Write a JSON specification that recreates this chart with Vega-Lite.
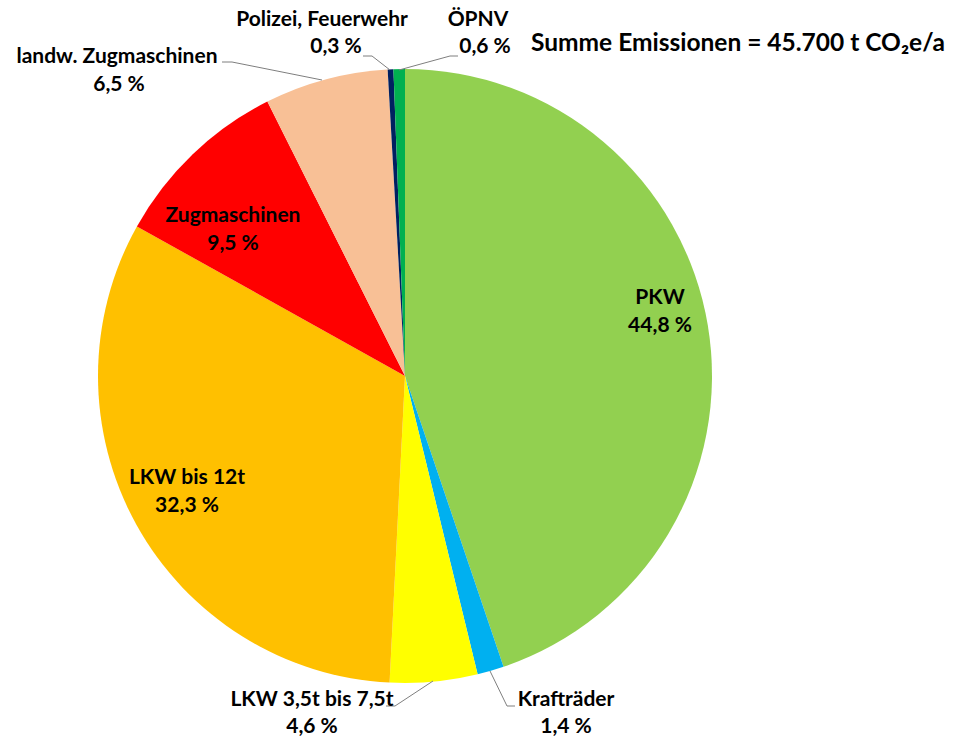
{
  "$schema": "https://vega.github.io/schema/vega-lite/v6.json",
  "width": 954,
  "height": 740,
  "autosize": "none",
  "padding": 0,
  "background": "white",
  "config": {"view": {"stroke": null}},
  "datasets": {
    "slices": [
      {"idx": 1, "category": "PKW", "share": 44.8, "cx": 405, "cy": 376},
      {"idx": 2, "category": "Krafträder", "share": 1.4, "cx": 405, "cy": 376},
      {"idx": 3, "category": "LKW 3,5t bis 7,5t", "share": 4.6, "cx": 405, "cy": 376},
      {"idx": 4, "category": "LKW bis 12t", "share": 32.3, "cx": 405, "cy": 376},
      {"idx": 5, "category": "Zugmaschinen", "share": 9.5, "cx": 405, "cy": 376},
      {"idx": 6, "category": "landw. Zugmaschinen", "share": 6.5, "cx": 405, "cy": 376},
      {"idx": 7, "category": "Polizei, Feuerwehr", "share": 0.3, "cx": 405, "cy": 376},
      {"idx": 8, "category": "ÖPNV", "share": 0.6, "cx": 405, "cy": 376}
    ],
    "labels": [
      {"text": "Polizei, Feuerwehr", "x": 322, "y": 20, "size": 21},
      {"text": "0,3 %", "x": 336, "y": 47, "size": 21},
      {"text": "ÖPNV", "x": 478, "y": 20, "size": 21},
      {"text": "0,6 %", "x": 485, "y": 47, "size": 21},
      {"text": "landw. Zugmaschinen", "x": 117, "y": 57, "size": 21},
      {"text": "6,5 %", "x": 119, "y": 85, "size": 21},
      {"text": "Zugmaschinen", "x": 233, "y": 216, "size": 21},
      {"text": "9,5 %", "x": 233, "y": 244, "size": 21},
      {"text": "PKW", "x": 660, "y": 298, "size": 21},
      {"text": "44,8 %", "x": 660, "y": 326, "size": 21},
      {"text": "LKW bis 12t", "x": 187, "y": 478, "size": 21},
      {"text": "32,3 %", "x": 187, "y": 506, "size": 21},
      {"text": "LKW 3,5t bis 7,5t", "x": 312, "y": 700, "size": 21},
      {"text": "4,6 %", "x": 312, "y": 727, "size": 21},
      {"text": "Krafträder", "x": 566, "y": 700, "size": 21},
      {"text": "1,4 %", "x": 566, "y": 727, "size": 21},
      {"text": "Summe Emissionen = 45.700 t CO₂e/a", "x": 738, "y": 44, "size": 24.5}
    ],
    "leaders": [
      {"id": "Polizei", "seq": 1, "x": 363, "y": 56},
      {"id": "Polizei", "seq": 2, "x": 372, "y": 56},
      {"id": "Polizei", "seq": 3, "x": 390, "y": 70},
      {"id": "OEPNV", "seq": 1, "x": 458, "y": 56},
      {"id": "OEPNV", "seq": 2, "x": 450, "y": 56},
      {"id": "OEPNV", "seq": 3, "x": 399, "y": 70},
      {"id": "landw", "seq": 1, "x": 222, "y": 62},
      {"id": "landw", "seq": 2, "x": 232, "y": 62},
      {"id": "landw", "seq": 3, "x": 322, "y": 80},
      {"id": "LKW35", "seq": 1, "x": 386, "y": 706},
      {"id": "LKW35", "seq": 2, "x": 395, "y": 706},
      {"id": "LKW35", "seq": 3, "x": 433, "y": 681},
      {"id": "Kraft", "seq": 1, "x": 515, "y": 706},
      {"id": "Kraft", "seq": 2, "x": 507, "y": 706},
      {"id": "Kraft", "seq": 3, "x": 490, "y": 671}
    ]
  },
  "layer": [
    {
      "data": {"name": "slices"},
      "mark": {"type": "arc", "outerRadius": 307},
      "encoding": {
        "theta": {"field": "share", "type": "quantitative", "stack": true},
        "order": {"field": "idx", "type": "quantitative"},
        "color": {
          "field": "category",
          "type": "nominal",
          "legend": null,
          "scale": {
            "domain": ["PKW", "Krafträder", "LKW 3,5t bis 7,5t", "LKW bis 12t", "Zugmaschinen", "landw. Zugmaschinen", "Polizei, Feuerwehr", "ÖPNV"],
            "range": ["#92d050", "#00b0f0", "#ffff00", "#ffc000", "#ff0000", "#f8c096", "#002060", "#00b050"]
          }
        },
        "x": {"field": "cx", "type": "quantitative", "axis": null, "scale": {"domain": [0, 954], "nice": false, "zero": false}},
        "y": {"field": "cy", "type": "quantitative", "axis": null, "scale": {"domain": [0, 740], "nice": false, "zero": false, "reverse": true}}
      }
    },
    {
      "data": {"name": "leaders"},
      "mark": {"type": "line", "color": "#7f7f7f", "strokeWidth": 1},
      "encoding": {
        "x": {"field": "x", "type": "quantitative", "axis": null, "scale": {"domain": [0, 954], "nice": false, "zero": false}},
        "y": {"field": "y", "type": "quantitative", "axis": null, "scale": {"domain": [0, 740], "nice": false, "zero": false, "reverse": true}},
        "detail": {"field": "id", "type": "nominal"},
        "order": {"field": "seq", "type": "quantitative"}
      }
    },
    {
      "data": {"name": "labels"},
      "mark": {"type": "text", "font": "Lato", "fontWeight": "bold", "color": "#000000", "baseline": "middle", "align": "center"},
      "encoding": {
        "x": {"field": "x", "type": "quantitative", "axis": null, "scale": {"domain": [0, 954], "nice": false, "zero": false}},
        "y": {"field": "y", "type": "quantitative", "axis": null, "scale": {"domain": [0, 740], "nice": false, "zero": false, "reverse": true}},
        "text": {"field": "text", "type": "nominal"},
        "size": {"field": "size", "type": "quantitative", "scale": null, "legend": null}
      }
    }
  ]
}
